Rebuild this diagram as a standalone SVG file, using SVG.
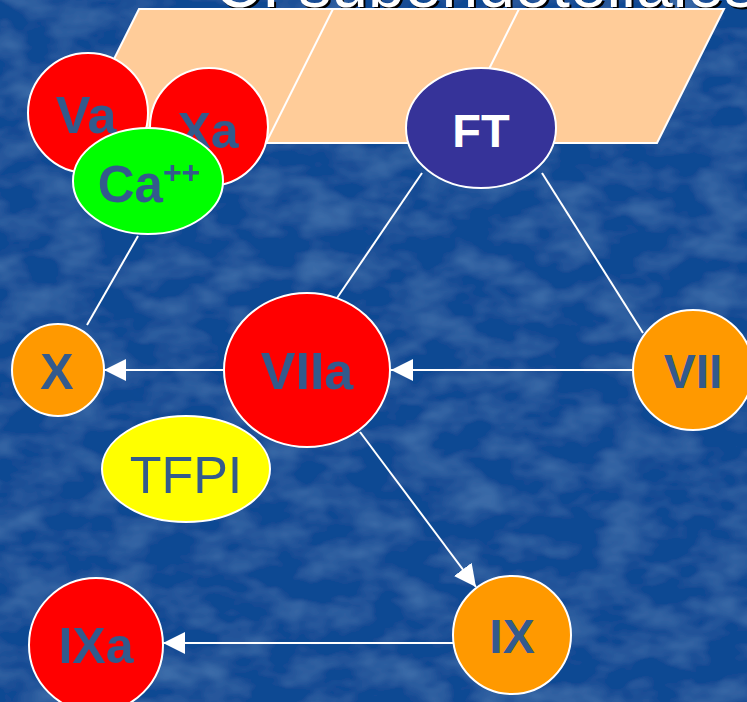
<svg xmlns="http://www.w3.org/2000/svg" width="747" height="702" viewBox="0 0 747 702">
<defs>
<marker id="ah" markerUnits="userSpaceOnUse" markerWidth="22" markerHeight="22" refX="20" refY="10" orient="auto" viewBox="0 0 20 20">
<path d="M0,0 L20,10 L0,20 z" fill="#ffffff"/>
</marker>
<filter id="tex" x="0" y="0" width="100%" height="100%">
<feTurbulence type="fractalNoise" baseFrequency="0.02 0.035" numOctaves="3" seed="7" result="n"/>
<feColorMatrix in="n" type="matrix" values="0 0 0 0 0.15  0 0 0 0 0.38  0 0 0 0 0.68  0 0 0 0.55 -0.22" result="c"/>
<feComposite in="c" in2="SourceGraphic" operator="over"/>
</filter>
</defs>
<style>
.lbl{font-family:"Liberation Sans",Arial,sans-serif;font-weight:bold;fill:#335A8C;text-anchor:middle}
.node{stroke:#ffffff;stroke-width:2}
.red{fill:#ff0000}
.org{fill:#ff9900}
.con{stroke:#ffffff;stroke-width:2;fill:none}
.ttl{font-family:"Liberation Sans",Arial,sans-serif;font-size:66px}
</style>
<rect x="0" y="0" width="747" height="702" fill="#104893" filter="url(#tex)"/>
<g id="title">
<text class="ttl" x="216" y="9" fill="#000000">C. subendoteliales</text>
<text class="ttl" x="214" y="7" fill="#ffffff">C. subendoteliales</text>
</g>
<g id="surface">
<path d="M139,9 L724,9 L657,143 L72,143 Z" fill="#ffcc99" stroke="#ffffff" stroke-width="2"/>
<line x1="333" y1="9" x2="266" y2="143" stroke="#ffffff" stroke-width="2"/>
<line x1="519" y1="9" x2="452" y2="143" stroke="#ffffff" stroke-width="2"/>
</g>
<g id="connectors">
<line class="con" x1="422" y1="173" x2="337" y2="298"/>
<line class="con" x1="542" y1="173" x2="643" y2="333"/>
<line class="con" x1="138" y1="236" x2="87" y2="325"/>
<line class="con" x1="224" y1="370" x2="104" y2="370" marker-end="url(#ah)"/>
<line class="con" x1="633" y1="370" x2="391" y2="370" marker-end="url(#ah)"/>
<line class="con" x1="360" y1="432" x2="476" y2="587" marker-end="url(#ah)"/>
<line class="con" x1="453" y1="643" x2="163" y2="643" marker-end="url(#ah)"/>
</g>
<g id="Va">
<circle class="node red" cx="88" cy="113" r="60"/>
<text class="lbl" x="86" y="133" font-size="52">Va</text>
</g>
<g id="Xa">
<circle class="node red" cx="209" cy="127" r="59"/>
<text class="lbl" x="208" y="148" font-size="50">Xa</text>
</g>
<g id="Ca">
<ellipse class="node" fill="#00ff00" cx="148" cy="181" rx="75" ry="53"/>
<text class="lbl" x="149" y="202" font-size="51">Ca<tspan font-size="32" dy="-19">++</tspan></text>
</g>
<g id="FT">
<ellipse class="node" fill="#363399" cx="481" cy="128" rx="75" ry="60"/>
<text class="lbl" x="481" y="147" font-size="47" style="fill:#ffffff">FT</text>
</g>
<g id="X">
<circle class="node org" cx="58" cy="370" r="46"/>
<text class="lbl" x="57" y="389" font-size="50">X</text>
</g>
<g id="VIIa">
<ellipse class="node red" cx="307" cy="370" rx="83" ry="77"/>
<text class="lbl" x="307" y="389" font-size="52">VIIa</text>
</g>
<g id="VII">
<circle class="node org" cx="693" cy="370" r="60"/>
<text class="lbl" x="693" y="388" font-size="48">VII</text>
</g>
<g id="TFPI">
<ellipse class="node" fill="#ffff00" cx="186" cy="469" rx="84" ry="53"/>
<text class="lbl" x="186" y="493" font-size="52" style="font-weight:normal">TFPI</text>
</g>
<g id="IX">
<circle class="node org" cx="512" cy="635" r="59"/>
<text class="lbl" x="512" y="653" font-size="48">IX</text>
</g>
<g id="IXa">
<circle class="node red" cx="96" cy="645" r="67"/>
<text class="lbl" x="96" y="663" font-size="50">IXa</text>
</g>
</svg>
